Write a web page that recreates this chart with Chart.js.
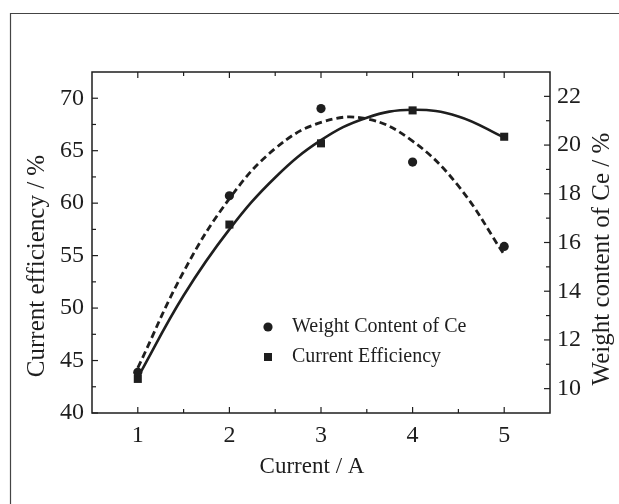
<!DOCTYPE html>
<html><head><meta charset="utf-8">
<script src="https://cdn.jsdelivr.net/npm/chart.js@4.4.1/dist/chart.umd.min.js"></script>
<style>html,body{margin:0;padding:0;background:#fff}canvas{display:block}</style>
</head><body>
<canvas id="c" width="619" height="504"></canvas>
<script>
const currents = [1, 2, 3, 4, 5];
const efficiency = [43.25, 57.96, 65.70, 68.84, 66.33];
const ceContent = [10.67, 17.92, 21.50, 19.30, 15.84];
const fitCurrents = [1, 1.5, 2, 2.5, 3, 3.5, 4, 4.5, 5];
const efficiencyFit = [43.4, 51.2, 57.5, 62.45, 66.0, 68.15, 68.9, 68.27, 66.25];
const ceFit = [10.85, 14.8, 17.8, 19.86, 20.93, 21.08, 20.16, 18.32, 15.5];
const xTicks = [1, 2, 3, 4, 5];
const leftTicks = [40, 45, 50, 55, 60, 65, 70];
const rightTicks = [10, 12, 14, 16, 18, 20, 22];
const seriesLabels = ['Weight Content of Ce', 'Current Efficiency'];
const xTitle = 'Current / A';
const leftTitle = 'Current efficiency / %';
const rightTitle = 'Weight content of Ce / %';

const FONT = '"Liberation Serif", "Times New Roman", serif';
const INK = '#1e1e1e';
const pairs = (xs, ys) => xs.map((x, i) => ({x, y: ys[i]}));

const decor = {
  id: 'decor',
  beforeDraw(chart) {
    const ctx = chart.ctx;
    ctx.save();
    ctx.fillStyle = '#fff';
    ctx.fillRect(0, 0, chart.width, chart.height);
    ctx.strokeStyle = '#444';
    ctx.lineWidth = 1.2;
    ctx.beginPath();
    ctx.moveTo(10.5, chart.height);
    ctx.lineTo(10.5, 13.5);
    ctx.lineTo(chart.width, 13.5);
    ctx.stroke();
    ctx.restore();
  },
  afterDraw(chart) {
    const {ctx, chartArea: a, scales} = chart;
    ctx.save();
    ctx.strokeStyle = INK;
    ctx.lineWidth = 1.5;
    ctx.strokeRect(a.left, a.top, a.right - a.left, a.bottom - a.top);
    ctx.lineWidth = 1.2;
    const seg = (x1, y1, x2, y2) => { ctx.beginPath(); ctx.moveTo(x1, y1); ctx.lineTo(x2, y2); ctx.stroke(); };
    const mids = arr => arr.slice(1).map((v, i) => (v + arr[i]) / 2);
    xTicks.forEach(v => { const x = scales.x.getPixelForValue(v); seg(x, a.bottom, x, a.bottom - 6); seg(x, a.top, x, a.top + 6); });
    mids(xTicks).forEach(v => { const x = scales.x.getPixelForValue(v); seg(x, a.bottom, x, a.bottom - 4); seg(x, a.top, x, a.top + 4); });
    leftTicks.forEach(v => { const y = scales.y.getPixelForValue(v); seg(a.left, y, a.left + 6, y); });
    mids(leftTicks).forEach(v => { const y = scales.y.getPixelForValue(v); seg(a.left, y, a.left + 4, y); });
    rightTicks.forEach(v => { const y = scales.y2.getPixelForValue(v); seg(a.right, y, a.right - 6, y); });
    mids(rightTicks).forEach(v => { const y = scales.y2.getPixelForValue(v); seg(a.right, y, a.right - 4, y); });

    // axis titles
    ctx.fillStyle = INK;
    ctx.font = '25px ' + FONT;
    ctx.textAlign = 'center';
    ctx.textBaseline = 'middle';
    [[37, 266, leftTitle], [602, 259, rightTitle]].forEach(([x, y, t]) => {
      ctx.save(); ctx.translate(x, y); ctx.rotate(-Math.PI / 2); ctx.fillText(t, 0, 0); ctx.restore();
    });
    ctx.font = '23px ' + FONT;
    ctx.fillText(xTitle, 312, 467);

    // legend
    ctx.font = '20px ' + FONT;
    ctx.textAlign = 'left';
    const items = [
      {label: seriesLabels[0], shape: 'circle', y: 327},
      {label: seriesLabels[1], shape: 'rect', y: 357}
    ];
    items.forEach(it => {
      const mx = 268;
      ctx.beginPath();
      if (it.shape === 'circle') ctx.arc(mx, it.y, 4.6, 0, Math.PI * 2);
      else ctx.rect(mx - 4, it.y - 4, 8, 8);
      ctx.fill();
      ctx.fillText(it.label, 292, it.y);
    });
    ctx.restore();
  }
};

const tickFont = {family: FONT, size: 24};

new Chart(document.getElementById('c'), {
  type: 'scatter',
  data: {
    datasets: [
      {label: 'Efficiency fit', data: pairs(fitCurrents, efficiencyFit), yAxisID: 'y', showLine: true,
       borderColor: INK, borderWidth: 2.6, pointRadius: 0, tension: 0.4, fill: false},
      {label: 'Ce fit', data: pairs(fitCurrents, ceFit), yAxisID: 'y2', showLine: true,
       borderColor: INK, borderWidth: 2.8, borderDash: [7, 4], pointRadius: 0, tension: 0.4, fill: false},
      {label: seriesLabels[0], data: pairs(currents, ceContent), yAxisID: 'y2', pointStyle: 'circle',
       pointRadius: 4.6, backgroundColor: INK, borderColor: INK, borderWidth: 0},
      {label: seriesLabels[1], data: pairs(currents, efficiency), yAxisID: 'y', pointStyle: 'rect',
       pointRadius: 5.7, backgroundColor: INK, borderColor: INK, borderWidth: 0}
    ]
  },
  options: {
    responsive: false,
    animation: false,
    events: [],
    layout: {padding: {top: 72, left: 0, right: 0, bottom: 0}},
    plugins: {legend: {display: false}, tooltip: {enabled: false}},
    scales: {
      x: {
        type: 'linear', position: 'bottom', min: 0.5, max: 5.5,
        afterBuildTicks: s => { s.ticks = xTicks.map(v => ({value: v})); },
        afterFit: s => { s.height = 91; },
        grid: {display: false, drawTicks: false},
        border: {display: false},
        ticks: {font: tickFont, color: INK, padding: 8, maxRotation: 0}
      },
      y: {
        type: 'linear', position: 'left', min: 40, max: 72.5,
        afterBuildTicks: s => { s.ticks = leftTicks.map(v => ({value: v})); },
        afterFit: s => { s.width = 92; },
        grid: {display: false, drawTicks: false},
        border: {display: false},
        ticks: {font: tickFont, color: INK, padding: 8}
      },
      y2: {
        type: 'linear', position: 'right', min: 9, max: 23,
        afterBuildTicks: s => { s.ticks = rightTicks.map(v => ({value: v})); },
        afterFit: s => { s.width = 69; },
        grid: {display: false, drawTicks: false},
        border: {display: false},
        ticks: {font: tickFont, color: INK, padding: 7}
      }
    }
  },
  plugins: [decor]
});
</script>
</body></html>
